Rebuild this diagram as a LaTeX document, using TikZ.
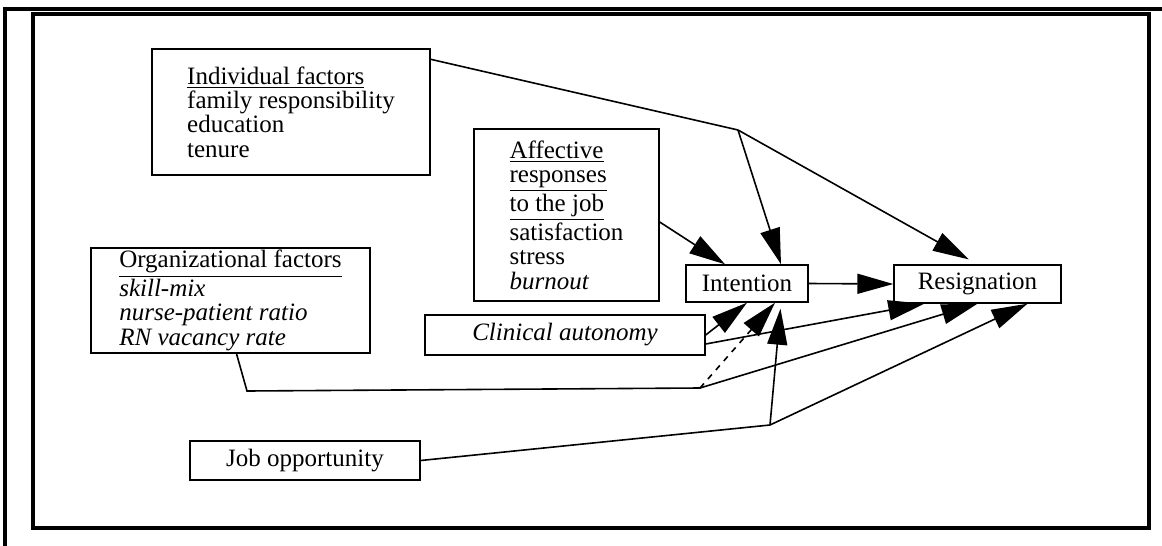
\documentclass[tikz,border=0pt]{standalone}
\usepackage{fontspec}
\setmainfont{Liberation Serif}
\usetikzlibrary{arrows.meta}

\begin{document}
\begin{tikzpicture}[x=0.5pt,y=-0.5pt]
	\tikzset{box/.style = {draw, line width=0.7pt, inner sep=0pt, align=left, font=\fontsize{12.5}{12.2}\selectfont}}
	\tikzset{link/.style = {draw, line width=0.8pt}}
	\tikzset{arr/.style = {link, -{Triangle[length=18pt,width=10pt]}}}
	\tikzset{frame/.style = {line width=1.8pt}}

	\useasboundingbox (0,0) rectangle (1162,546);

	% frames
	\draw[frame] (5,546) -- (5,9) -- (1162,9);
	\draw[frame] (33,14) rectangle (1149,528);

	% nodes
	\node[box, minimum width=139pt, minimum height=63pt] (indiv) at (291,112)
		{\underline{Individual factors}\\ family responsibility\\ education\\ tenure};
	\node[box, minimum width=92.5pt, minimum height=86pt] (affect) at (566.5,215)
		{\underline{Affective}\\ \underline{responses}\\ \underline{to the job}\\ satisfaction\\ stress\\ \textit{burnout}};
	\node[box, minimum width=139.5pt, minimum height=52.5pt] (org) at (230.5,300.5)
		{\underline{Organizational factors}\\ \textit{skill-mix}\\ \textit{nurse-patient ratio}\\ \textit{RN vacancy rate}};
	\node[box, minimum width=140pt, minimum height=20pt] (clin) at (565,335) {\textit{Clinical autonomy}};
	\node[box, minimum width=115pt, minimum height=19.5pt] (job) at (305,460.5) {Job opportunity};
	\node[box, minimum width=61pt, minimum height=18.5pt] (intent) at (747,283.5) {Intention};
	\node[box, minimum width=83.5pt, minimum height=19pt] (resig) at (977.5,284) {Resignation};

	% bends and junctions
	\coordinate (ij) at (738,130);
	\coordinate (obend) at (247,391);
	\coordinate (oj) at (700,388);
	\coordinate (jj) at (770,425);

	% paths
	\draw[link] ([yshift=-5.5pt]indiv.north east) -- (ij);
	\draw[arr] (ij) -- ([xshift=17pt]intent.north);
	\draw[arr, shorten >=5pt] (ij) -- (resig.north);
	\draw[arr] ([yshift=-3.5pt]affect.east) -- ([xshift=-11pt]intent.north);
	\draw[arr] (intent.east) -- (resig.west);
	\draw[arr] (clin.east) -- (intent.south);
	\draw[arr] ([yshift=-4.5pt]clin.east) -- ([xshift=15.5pt]resig.south west);
	\draw[link] ([xshift=3pt]org.south) -- (obend) -- (oj);
	\draw[arr, dashed] (oj) -- ([xshift=14pt]intent.south);
	\draw[arr] (oj) -- (resig.south);
	\draw[link] (job.east) -- (jj);
	\draw[arr, shorten >=3pt] (jj) -- ([xshift=17pt]intent.south);
	\draw[arr] (jj) -- ([xshift=25pt]resig.south);
\end{tikzpicture}
\end{document}
